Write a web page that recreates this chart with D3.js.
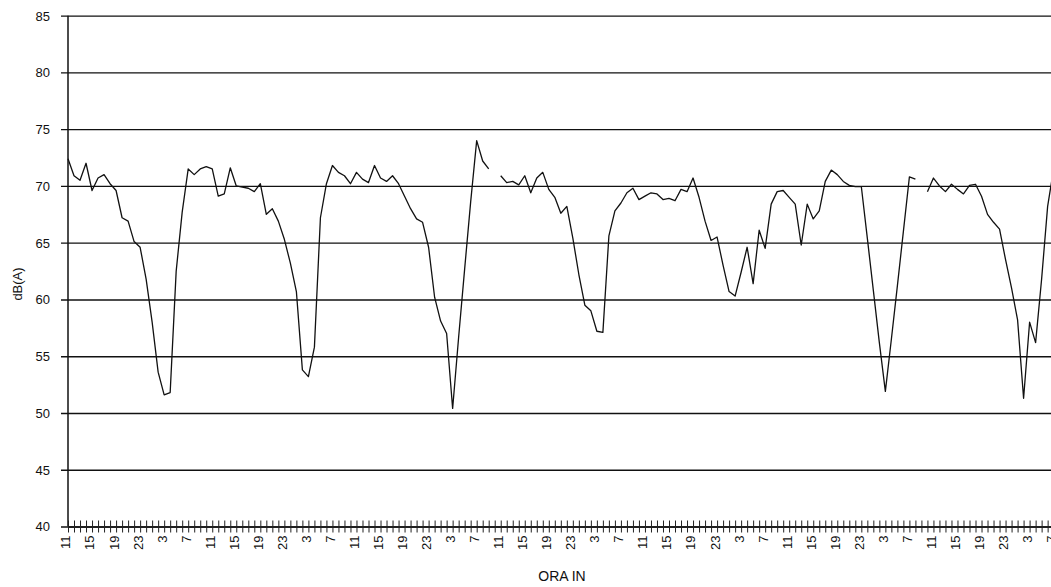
<!DOCTYPE html>
<html>
<head>
<meta charset="utf-8">
<script src="https://cdn.jsdelivr.net/npm/d3@7"></script>
<style>
  html, body { margin: 0; padding: 0; background: #fff; }
  svg { display: block; }
  text { font-family: "Liberation Sans", Arial, sans-serif; fill: #111; }
</style>
</head>
<body>
<svg id="chart" width="1051" height="587"></svg>
<script>
// Hour of day for each hourly reading (ORA IN)
const hours = [
  11,12,13,14,15,16,17,18,19,20,21,22,23,
  0,1,2,3,4,5,6,7,8,9,10,11,12,13,14,15,16,17,18,19,20,21,22,23,
  0,1,2,3,4,5,6,7,8,9,10,11,12,13,14,15,16,17,18,19,20,21,22,23,
  0,1,2,3,4,5,6,7,8,9,10,11,12,13,14,15,16,17,18,19,20,21,22,23,
  0,1,2,3,4,5,6,7,8,9,10,11,12,13,14,15,16,17,18,19,20,21,22,23,
  0,1,2,3,4,5,6,7,8,9,10,11,12,13,14,15,16,17,18,19,20,21,22,23,
  0,1,2,3,4,5,6,7,8,9,10,11,12,13,14,15,16,17,18,19,20,21,22,23,
  0,1,2,3,4,5,6,7
];

// Hourly equivalent level, dB(A); null = missing hour
const levels = [
  72.4, 70.9, 70.5, 72.0, 69.6, 70.7, 71.0, 70.2, 69.6, 67.2,
  66.9, 65.1, 64.6, 61.8, 58.0, 53.6, 51.6, 51.8, 62.5, 67.7,
  71.5, 71.0, 71.5, 71.7, 71.5, 69.1, 69.3, 71.6, 70.0, 69.9,
  69.8, 69.5, 70.2, 67.5, 68.0, 66.9, 65.3, 63.2, 60.7, 53.8,
  53.2, 55.8, 67.2, 70.2, 71.8, 71.2, 70.9, 70.2, 71.2, 70.6,
  70.3, 71.8, 70.7, 70.4, 70.9, 70.2, 69.1, 68.0, 67.1, 66.8,
  64.6, 60.2, 58.1, 57.0, 50.4, 56.7, 62.7, 68.6, 74.0, 72.2,
  71.5, null, 70.9, 70.3, 70.4, 70.1, 70.9, 69.4, 70.7, 71.2,
  69.7, 69.0, 67.6, 68.2, 65.4, 62.2, 59.5, 59.0, 57.2, 57.1,
  65.6, 67.8, 68.5, 69.4, 69.8, 68.8, 69.1, 69.4, 69.3, 68.8,
  68.9, 68.7, 69.7, 69.5, 70.7, 69.0, 66.9, 65.2, 65.5, 63.0,
  60.7, 60.3, 62.4, 64.6, 61.4, 66.1, 64.5, 68.4, 69.5, 69.6,
  69.0, 68.4, 64.8, 68.4, 67.1, 67.8, 70.4, 71.4, 71.0, 70.4,
  70.05, 69.95, 69.95, 65.4, 60.8, 56.2, 51.9, 56.5, 61.2, 66.0,
  70.8, 70.6, null, 69.5, 70.7, 70.0, 69.5, 70.15, 69.7, 69.3,
  70.05, 70.15, 69.1, 67.5, 66.8, 66.2, 63.5, 61.0, 58.2, 51.3,
  58.0, 56.2, 61.8, 68.2, 71.5
];

// Value axis ticks
const yTicks = [40, 45, 50, 55, 60, 65, 70, 75, 80, 85];
// Every fourth hour carries a label
const labelEvery = 4;

const svg = d3.select("#chart");

const x0 = 68, step = 6.01;
const x = d3.scalePoint()
  .domain(d3.range(hours.length))
  .range([x0, x0 + step * (hours.length - 1)]);

const y = d3.scaleLinear().domain([40, 85]).range([526.5, 15.7]);

const plotRight = x(hours.length - 1);
const plotW = plotRight - x0;

// Horizontal gridlines with outside ticks and value labels
const yAxis = svg.append("g")
  .attr("transform", `translate(${x0},0)`)
  .call(d3.axisLeft(y).tickValues(yTicks).tickSize(-plotW).tickSizeOuter(0).tickPadding(18));
yAxis.select(".domain").remove();
yAxis.selectAll(".tick line")
  .attr("x1", -7)
  .attr("stroke", "#111")
  .attr("stroke-width", 1.3);
yAxis.selectAll(".tick text")
  .style("font-size", "13px")
  .attr("dy", "0.34em");

// Vertical value axis line
svg.append("line")
  .attr("x1", x0).attr("x2", x0)
  .attr("y1", y(85)).attr("y2", y(40))
  .attr("stroke", "#111").attr("stroke-width", 1.5);

// Category axis: a crossing tick for each hour, labels every 4 hours
const xAxis = svg.append("g")
  .attr("transform", `translate(0,${y(40)})`)
  .call(d3.axisBottom(x)
    .tickValues(d3.range(hours.length))
    .tickFormat(i => i % labelEvery === 0 ? String(hours[i]) : "")
    .tickSizeOuter(0));
xAxis.select(".domain")
  .attr("stroke", "#111").attr("stroke-width", 1.3);
xAxis.selectAll(".tick line")
  .attr("y1", -6).attr("y2", 6)
  .attr("stroke", "#222").attr("stroke-width", 1);
xAxis.selectAll(".tick text")
  .style("font-size", "13px")
  .attr("text-anchor", "end")
  .attr("transform", "rotate(-90)")
  .attr("x", -9)
  .attr("y", 0)
  .attr("dy", "0.15em");

// Hourly level line
const line = d3.line()
  .defined(d => d != null)
  .x((d, i) => x(i))
  .y(d => y(d));

svg.append("path")
  .datum(levels)
  .attr("fill", "none")
  .attr("stroke", "#111")
  .attr("stroke-width", 1.3)
  .attr("stroke-linejoin", "round")
  .attr("d", line);

// Axis titles
svg.append("text")
  .attr("transform", "translate(22,284) rotate(-90)")
  .attr("text-anchor", "middle")
  .style("font-size", "13px")
  .text("dB(A)");

svg.append("text")
  .attr("x", 562).attr("y", 581)
  .attr("text-anchor", "middle")
  .style("font-size", "14px")
  .text("ORA IN");
</script>
</body>
</html>
